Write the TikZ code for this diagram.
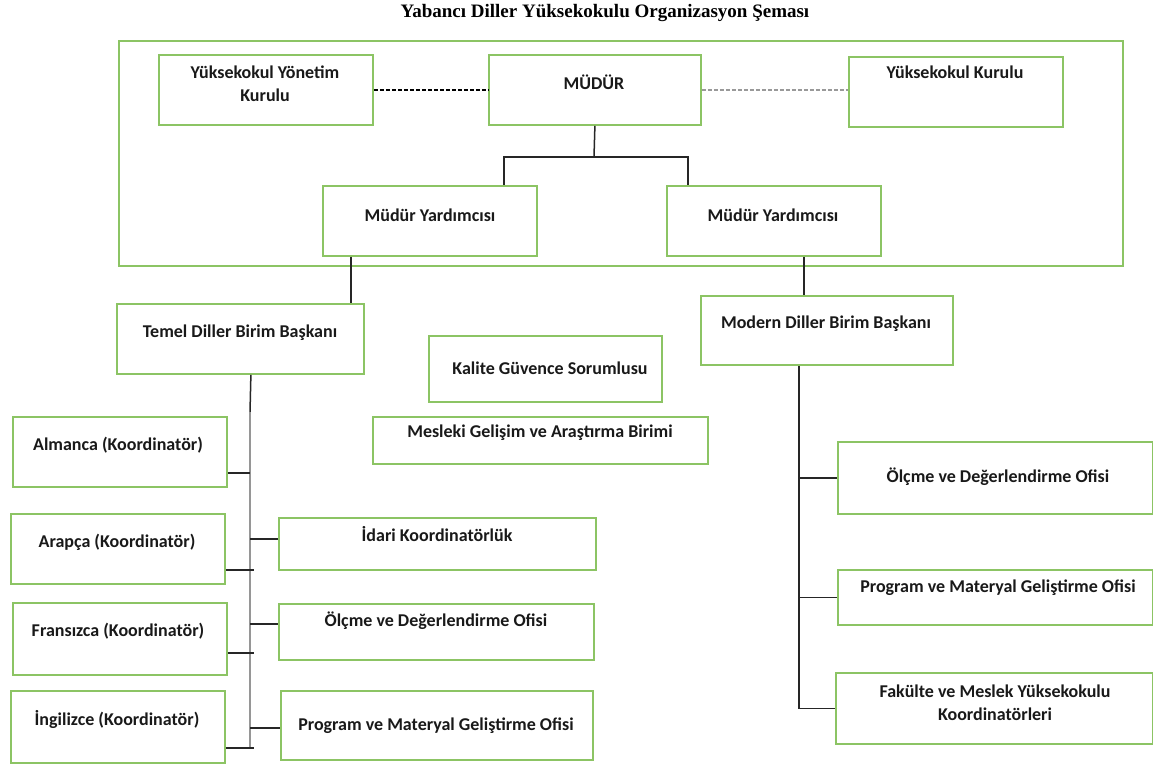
\documentclass[tikz,border=0pt]{standalone}
\usepackage{fontspec}
\setmainfont{Carlito}
\newfontfamily\titlefont{Liberation Serif}
\definecolor{boxgreen}{RGB}{140,196,100}
\definecolor{busgray}{RGB}{150,150,150}
\begin{document}
\begin{tikzpicture}[x=1pt,y=-1pt,
  box/.style={draw=boxgreen, line width=1.8pt, anchor=north west, inner sep=0pt, fill=none},
  lbl/.style={font=\bfseries\fontsize{18}{23}\selectfont, align=center, inner sep=0pt, text=black!90},
  conn/.style={draw=black!85, line width=1.5pt},
  dconn/.style={draw=black, line width=1.3pt, dash pattern=on 4pt off 2pt},
  gconn/.style={draw=black!40, line width=1.3pt, dash pattern=on 4pt off 2pt}]
\useasboundingbox (0,0) rectangle (1153,767);
\fill[white] (0,0) rectangle (1153,767);
% title
\node[font=\titlefont\bfseries\fontsize{19}{21}\selectfont, inner sep=0pt] (title) at (605,13) {Yabancı Diller Yüksekokulu Organizasyon Şeması};
% outer frame
\node[box, minimum width=1004pt, minimum height=225pt] (frame) at (118,40) {};
% boxes
\node[box, minimum width=214pt, minimum height=70pt] (yyk) at (158,54) {};
\node[box, minimum width=212pt, minimum height=70pt] (mudur) at (488,54) {};
\node[box, minimum width=214pt, minimum height=70pt] (yk) at (848,56) {};
\node[box, minimum width=214pt, minimum height=70pt] (vp1) at (322,185) {};
\node[box, minimum width=214pt, minimum height=70pt] (vp2) at (666,185) {};
\node[box, minimum width=247pt, minimum height=70pt] (temel) at (116,303) {};
\node[box, minimum width=252pt, minimum height=69pt] (modern) at (700,295) {};
\node[box, minimum width=233pt, minimum height=66pt] (kalite) at (428,335) {};
\node[box, minimum width=335pt, minimum height=47pt] (mesleki) at (372,416) {};
\node[box, minimum width=214pt, minimum height=70pt] (alm) at (12,416) {};
\node[box, minimum width=214pt, minimum height=70pt] (ara) at (10,513) {};
\node[box, minimum width=214pt, minimum height=72pt] (fra) at (12,602) {};
\node[box, minimum width=214pt, minimum height=72pt] (ing) at (10,690) {};
\node[box, minimum width=317pt, minimum height=52pt] (idari) at (278,517) {};
\node[box, minimum width=315pt, minimum height=56pt] (olcL) at (278,603) {};
\node[box, minimum width=312pt, minimum height=69pt] (progL) at (280,690) {};
\node[box, minimum width=315pt, minimum height=72pt] (olcR) at (837,441) {};
\node[box, minimum width=315pt, minimum height=55pt] (progR) at (837,569) {};
\node[box, minimum width=317pt, minimum height=71pt] (fak) at (835,672) {};
% texts
\node[lbl] (t-yyk) at (265,83.5) {Yüksekokul Yönetim\\Kurulu};
\node[lbl] (t-mudur) at (594,82) {MÜDÜR};
\node[lbl] (t-yk) at (955,72) {Yüksekokul Kurulu};
\node[lbl] (t-vp1) at (430,215) {Müdür Yardımcısı};
\node[lbl] (t-vp2) at (773,215) {Müdür Yardımcısı};
\node[lbl] (t-temel) at (240,333) {Temel Diller Birim Başkanı};
\node[lbl] (t-modern) at (826,324) {Modern Diller Birim Başkanı};
\node[lbl] (t-kalite) at (550,368) {Kalite Güvence Sorumlusu};
\node[lbl] (t-mesleki) at (540,433) {Mesleki Gelişim ve Araştırma Birimi};
\node[lbl] (t-alm) at (118,445) {Almanca (Koordinatör)};
\node[lbl] (t-ara) at (117,542) {Arapça (Koordinatör)};
\node[lbl] (t-fra) at (118,631) {Fransızca (Koordinatör)};
\node[lbl] (t-ing) at (117,719) {İngilizce (Koordinatör)};
\node[lbl] (t-idari) at (437,534) {İdari Koordinatörlük};
\node[lbl] (t-olcL) at (436,621) {Ölçme ve Değerlendirme Ofisi};
\node[lbl] (t-progL) at (436,726) {Program ve Materyal Geliştirme Ofisi};
\node[lbl] (t-olcR) at (998,477) {Ölçme ve Değerlendirme Ofisi};
\node[lbl] (t-progR) at (998,588) {Program ve Materyal Geliştirme Ofisi};
\node[lbl] (t-fak) at (995,702.5) {Fakülte ve Meslek Yüksekokulu\\Koordinatörleri};
% dashed links
\draw[dconn] (yyk.east) -- (mudur.west);
\draw[gconn] (mudur.east) -- (mudur.east -| yk.west);
% director to vice directors
\coordinate (hbar) at (594,157);
\draw[conn] (mudur.south) -- (hbar);
\draw[conn] ([xshift=74pt]vp1.north) |- (hbar) -| ([xshift=-86pt]vp2.north);
% vice directors to unit heads
\draw[conn] ([xshift=-79pt]vp1.south) -- ([xshift=-79pt]vp1.south |- temel.north);
\draw[conn] ([xshift=30pt]vp2.south) -- ([xshift=30pt]vp2.south |- modern.north);
% left bus
\coordinate (lbm) at (250,412);
\coordinate (lb) at (250,748);
\draw[conn] ([xshift=10.5pt]temel.south) -- (lbm);
\draw[conn, draw=busgray] (lbm) -- (lb);
\draw[conn] ([yshift=-21pt]alm.east) -- ([yshift=-21pt]alm.east -| lb);
\draw[conn] ([yshift=-21pt]ara.east) -- ([yshift=-21pt,xshift=4pt]ara.east -| lb);
\draw[conn] ([yshift=-14pt]fra.east) -- ([yshift=-14pt,xshift=4pt]fra.east -| lb);
\draw[conn] ([yshift=-21pt]ing.east) -- ([yshift=-21pt,xshift=4pt]ing.east -| lb);
\draw[conn] ([yshift=5pt]idari.west -| lb) -- ([yshift=5pt]idari.west);
\draw[conn] ([yshift=8pt]olcL.west -| lb) -- ([yshift=8pt]olcL.west);
\draw[conn] ([yshift=-2.5pt]progL.west -| lb) -- ([yshift=-2.5pt]progL.west);
% right bus
\draw[conn] ([xshift=-28pt]modern.south) |- (fak.west);
\draw[conn] ([xshift=-28pt]modern.south |- olcR.west) -- (olcR.west);
\draw[conn] ([xshift=-28pt]modern.south |- progR.west) -- (progR.west);
\end{tikzpicture}
\end{document}
